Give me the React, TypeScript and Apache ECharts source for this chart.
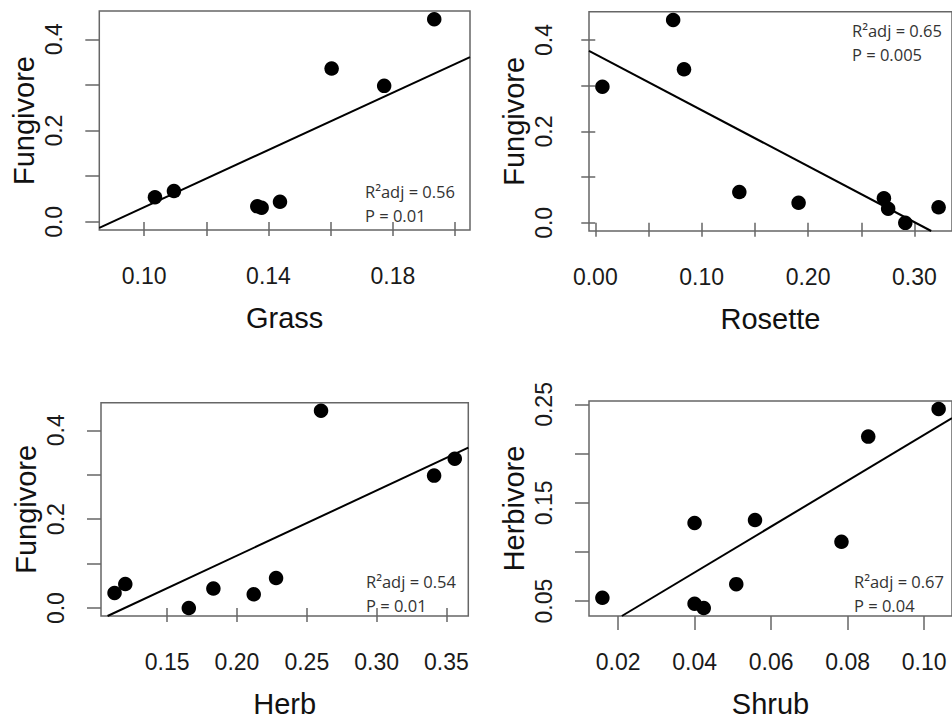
import React, { useEffect, useRef } from "react";
import * as echarts from "echarts";

// ---- data ----
const grassX = [0.1035, 0.1096, 0.1364, 0.1378, 0.1437, 0.1603, 0.1772, 0.1933];
const grassY = [0.054, 0.0675, 0.034, 0.031, 0.044, 0.336, 0.298, 0.444];

const rosetteX = [0.0067, 0.0732, 0.0834, 0.1354, 0.1911, 0.2713, 0.2753, 0.2914, 0.3227];
const rosetteY = [0.298, 0.444, 0.336, 0.0675, 0.044, 0.054, 0.031, 0.0, 0.034];

const herbX = [0.1123, 0.12, 0.1655, 0.1831, 0.212, 0.228, 0.2602, 0.3412, 0.356];
const herbY = [0.034, 0.054, 0.0, 0.044, 0.031, 0.0675, 0.444, 0.298, 0.336];

const shrubX = [0.0159, 0.04, 0.04, 0.0424, 0.0509, 0.0558, 0.0784, 0.0854, 0.1038];
const shrubY = [0.0534, 0.1295, 0.0474, 0.043, 0.0673, 0.1325, 0.1103, 0.2173, 0.2454];

// regression fits [slope, intercept]
const grassFit = [3.14, -0.282];
const rosetteFit = [-1.225, 0.369];
const herbFit = [1.465, -0.175];
const shrubFit = [2.33, -0.014];

const statsR2 = ["R²adj = 0.56", "R²adj = 0.65", "R²adj = 0.54", "R²adj = 0.67"];
const statsP = ["P = 0.01", "P = 0.005", "P = 0.01", "P = 0.04"];

const xNames = ["Grass", "Rosette", "Herb", "Shrub"];
const yNames = ["Fungivore", "Fungivore", "Fungivore", "Herbivore"];

const grassXTicks = [0.1, 0.12, 0.14, 0.16, 0.18, 0.2];
const grassXLabels = [0.1, 0.14, 0.18];
const rosetteXTicks = [0, 0.05, 0.1, 0.15, 0.2, 0.25, 0.3];
const rosetteXLabels = [0, 0.1, 0.2, 0.3];
const herbXTicks = [0.15, 0.2, 0.25, 0.3, 0.35];
const herbXLabels = [0.15, 0.2, 0.25, 0.3, 0.35];
const shrubXTicks = [0.02, 0.04, 0.06, 0.08, 0.1];
const shrubXLabels = [0.02, 0.04, 0.06, 0.08, 0.1];
const fungYTicks = [0, 0.1, 0.2, 0.3, 0.4];
const fungYLabels = [0, 0.2, 0.4];
const herbivYTicks = [0.05, 0.1, 0.15, 0.2, 0.25];
const herbivYLabels = [0.05, 0.15, 0.25];

// ---- layout ----
const FONT = "'Liberation Sans', Arial, Helvetica, sans-serif";
const ANN_FONT = "'Open Sans', 'Noto Sans', sans-serif";
const BOX = "#666666";

type Panel = {
  xs: number[];
  ys: number[];
  fit: number[];
  xr: [number, number];
  yr: [number, number];
  xt: number[];
  xl: number[];
  yt: number[];
  yl: number[];
  xd: number;
  yd: number;
  grid: { left: number; top: number; width: number; height: number };
  ann: [number, number];
};

const panels: Panel[] = [
  {
    xs: grassX, ys: grassY, fit: grassFit,
    xr: [0.0856, 0.2048], yr: [-0.0178, 0.462],
    xt: grassXTicks, xl: grassXLabels, yt: fungYTicks, yl: fungYLabels, xd: 2, yd: 1,
    grid: { left: 99.3, top: 11, width: 370.7, height: 219 },
    ann: [365, 191.5],
  },
  {
    xs: rosetteX, ys: rosetteY, fit: rosetteFit,
    xr: [-0.0059, 0.3353], yr: [-0.0178, 0.462],
    xt: rosetteXTicks, xl: rosetteXLabels, yt: fungYTicks, yl: fungYLabels, xd: 2, yd: 1,
    grid: { left: 589, top: 11.7, width: 366.6, height: 219.3 },
    ann: [852, 30.5],
  },
  {
    xs: herbX, ys: herbY, fit: herbFit,
    xr: [0.1026, 0.3657], yr: [-0.0178, 0.462],
    xt: herbXTicks, xl: herbXLabels, yt: fungYTicks, yl: fungYLabels, xd: 2, yd: 1,
    grid: { left: 101, top: 402.7, width: 367.3, height: 220 },
    ann: [366, 581.7],
  },
  {
    xs: shrubX, ys: shrubY, fit: shrubFit,
    xr: [0.0124, 0.1073], yr: [0.0349, 0.2535],
    xt: shrubXTicks, xl: shrubXLabels, yt: herbivYTicks, yl: herbivYLabels, xd: 2, yd: 2,
    grid: { left: 589, top: 401, width: 366, height: 219 },
    ann: [854, 581.7],
  },
];

function clipFit(fit: number[], xr: [number, number], yr: [number, number]) {
  const [m, b] = fit;
  const f = (x: number) => m * x + b;
  const xa = (yr[0] - b) / m;
  const xb = (yr[1] - b) / m;
  const lo = Math.max(xr[0], Math.min(xa, xb));
  const hi = Math.min(xr[1], Math.max(xa, xb));
  return [
    [lo, f(lo)],
    [hi, f(hi)],
  ];
}

export default function App() {
  const ref = useRef<HTMLDivElement>(null);
  useEffect(() => {
    if (!ref.current) return;
    const chart = echarts.init(ref.current, undefined, { renderer: "svg" });
    const grids: any[] = [];
    const xAxes: any[] = [];
    const yAxes: any[] = [];
    const series: any[] = [];
    const graphics: any[] = [];
    panels.forEach((p, i) => {
      grids.push({
        ...p.grid,
        show: true,
        borderColor: BOX,
        borderWidth: 1.5,
        backgroundColor: "transparent",
        containLabel: false,
      });
      xAxes.push({
        type: "value",
        gridIndex: i,
        min: p.xr[0],
        max: p.xr[1],
        name: xNames[i],
        nameLocation: "middle",
        nameGap: 73,
        nameTextStyle: { fontSize: 29, fontFamily: FONT, color: "#111" },
        axisLine: { show: false },
        splitLine: { show: false },
        axisTick: {
          show: true,
          inside: false,
          length: 14,
          customValues: p.xt,
          lineStyle: { color: BOX, width: 1.5 },
        },
        axisLabel: {
          show: true,
          margin: 34,
          customValues: p.xl,
          formatter: (v: number) => v.toFixed(p.xd),
          fontSize: 23,
          fontFamily: FONT,
          color: "#1a1a1a",
        },
      });
      yAxes.push({
        type: "value",
        gridIndex: i,
        min: p.yr[0],
        max: p.yr[1],
        name: yNames[i],
        nameLocation: "middle",
        nameGap: 61,
        nameTextStyle: { fontSize: 29, fontFamily: FONT, color: "#111" },
        axisLine: { show: false },
        splitLine: { show: false },
        axisTick: {
          show: true,
          inside: false,
          length: 14,
          customValues: p.yt,
          lineStyle: { color: BOX, width: 1.5 },
        },
        axisLabel: {
          show: true,
          rotate: 90,
          margin: 34,
          customValues: p.yl,
          formatter: (v: number) => v.toFixed(p.yd),
          fontSize: 23,
          fontFamily: FONT,
          color: "#1a1a1a",
        },
      });
      series.push({
        type: "scatter",
        xAxisIndex: i,
        yAxisIndex: i,
        symbol: "circle",
        symbolSize: 14.5,
        itemStyle: { color: "#000", opacity: 1 },
        data: p.xs.map((x, k) => [x, p.ys[k]]),
        z: 3,
      });
      series.push({
        type: "line",
        xAxisIndex: i,
        yAxisIndex: i,
        symbol: "none",
        clip: true,
        lineStyle: { color: "#000", width: 2 },
        data: clipFit(p.fit, p.xr, p.yr),
        z: 2,
      });
      graphics.push({
        type: "text",
        x: p.ann[0],
        y: p.ann[1],
        style: {
          text: statsR2[i],
          fontSize: 16.5,
          fontFamily: ANN_FONT,
          fill: "#333",
          verticalAlign: "middle",
          align: "left",
        },
      });
      graphics.push({
        type: "text",
        x: p.ann[0],
        y: p.ann[1] + 23.5,
        style: {
          text: statsP[i],
          fontSize: 16.5,
          fontFamily: ANN_FONT,
          fill: "#333",
          verticalAlign: "middle",
          align: "left",
        },
      });
    });
    chart.setOption({
      animation: false,
      backgroundColor: "#fff",
      grid: grids,
      xAxis: xAxes,
      yAxis: yAxes,
      series,
      graphic: graphics,
    });
    return () => chart.dispose();
  }, []);
  return (
    <div
      ref={ref}
      style={{
        position: "absolute",
        left: 0,
        top: 0,
        width: 952,
        height: 719,
        overflow: "hidden",
        background: "#fff",
      }}
    />
  );
}
